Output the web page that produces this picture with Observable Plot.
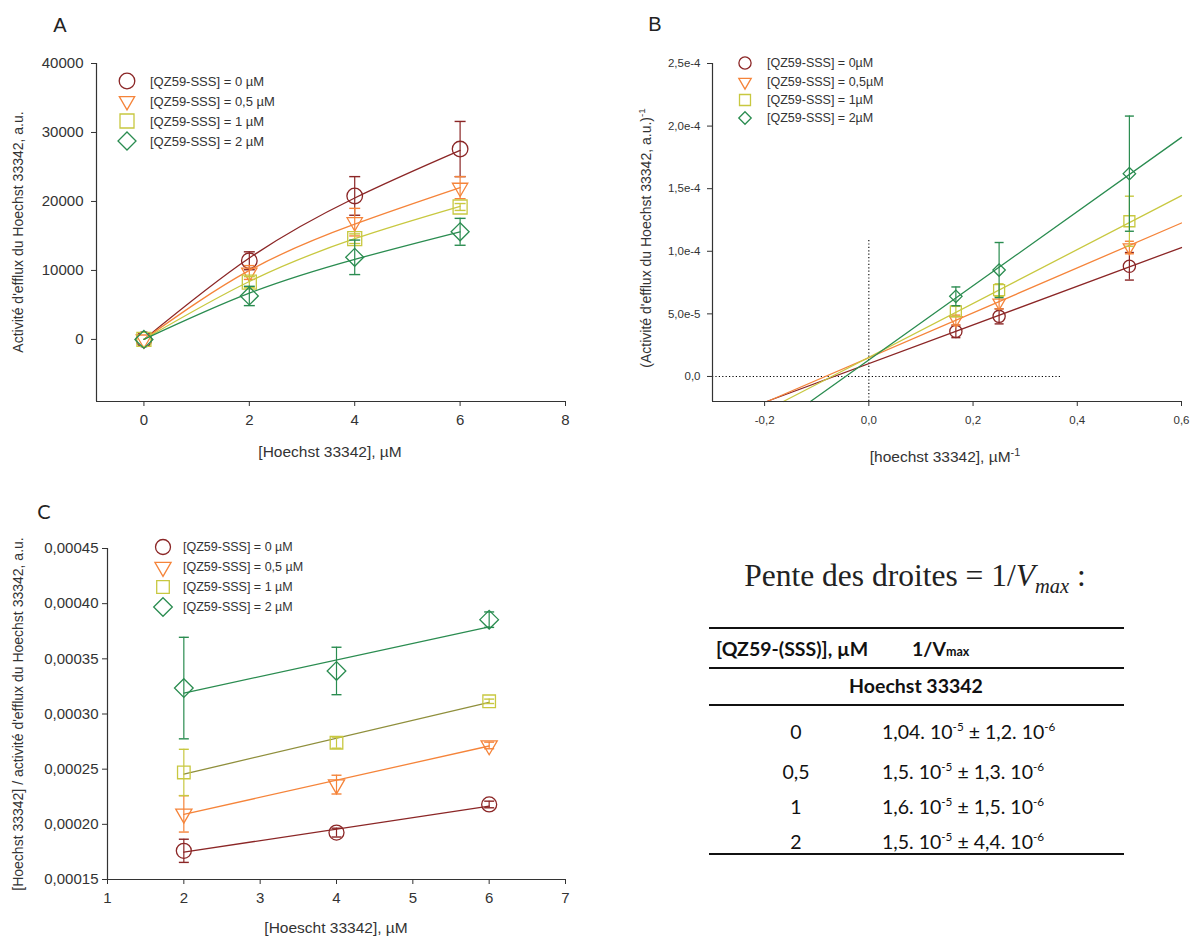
<!DOCTYPE html>
<html><head><meta charset="utf-8">
<script src="https://cdn.jsdelivr.net/npm/d3@7"></script>
<script src="https://cdn.jsdelivr.net/npm/@observablehq/plot@0.6"></script>
<style>
body{margin:0;background:#fff;}
#root{position:relative;width:1193px;height:938px;overflow:hidden;font-family:"Liberation Sans",Arial,sans-serif;color:#333;}
.abs{position:absolute;white-space:nowrap;}
.vlab{position:absolute;transform:translate(-50%,-50%) rotate(-90deg);white-space:nowrap;font-size:14px;color:#333;}
.hlab{position:absolute;transform:translate(-50%,-50%);white-space:nowrap;font-size:15.5px;color:#333;}
.letter{position:absolute;transform:translate(-50%,-50%);font-size:20px;color:#222;}
.leg{position:absolute;transform:translateY(-50%);white-space:nowrap;color:#333;}
.tbl{position:absolute;font-family:Lato,"Open Sans",sans-serif;color:#111;white-space:nowrap;}
.hr{position:absolute;left:709px;width:415px;background:#111;}
sup{font-size:70%;}
</style></head>
<body><div id="root"></div>
<script>
// ---------- data ----------
const seriesNamesA = ["[QZ59-SSS] = 0 µM", "[QZ59-SSS] = 0,5 µM", "[QZ59-SSS] = 1 µM", "[QZ59-SSS] = 2 µM"];
const seriesNamesB = ["[QZ59-SSS] = 0µM", "[QZ59-SSS] = 0,5µM", "[QZ59-SSS] = 1µM", "[QZ59-SSS] = 2µM"];
const colors = ["#8b2626", "#f5843a", "#c8c840", "#2a8c50"];
const lineColorsC = ["#8b2626", "#f5843a", "#8f8f3c", "#2a8c50"];
const symbols = ["circle", "triangle", "square", "diamond2"];
const rotations = [0, 180, 0, 0];

// Panel A: efflux activity vs [Hoechst 33342]
const concA = [0, 2, 4, 6];
const effluxA0 = [0, 11400, 20800, 27600];
const effluxA05 = [0, 9700, 17000, 22000];
const effluxA1 = [0, 8300, 14600, 19200];
const effluxA2 = [0, 6300, 11900, 15600];
const errA0 = [0, 1300, 2800, 4000];
const errA05 = [0, 1000, 2000, 1600];
const errA1 = [0, 800, 700, 500];
const errA2 = [0, 1400, 2500, 1950];
const fitA0 = [0, 11800, 20500, 27400];
const fitA05 = [0, 10000, 16700, 22000];
const fitA1 = [0, 8400, 14600, 19300];
const fitA2 = [0, 6700, 11600, 15600];
const xTicksA = [0, 2, 4, 6, 8];
const xTickLabelsA = ["0", "2", "4", "6", "8"];
const yTicksA = [0, 10000, 20000, 30000, 40000];
const yTickLabelsA = ["0", "10000", "20000", "30000", "40000"];
const xDomainA = [-0.9, 8];
const yDomainA = [-9000, 40000];

// Panel B: Lineweaver-Burk
const invConcB = [0.167, 0.25, 0.5];
const invEffluxB0 = [3.6e-5, 4.8e-5, 8.8e-5];
const invEffluxB05 = [4.5e-5, 5.9e-5, 1.03e-4];
const invEffluxB1 = [5.2e-5, 6.9e-5, 1.24e-4];
const invEffluxB2 = [6.4e-5, 8.5e-5, 1.62e-4];
const errB0 = [0.5e-5, 0.6e-5, 1.1e-5];
const errB05 = [0.4e-5, 0.5e-5, 0.5e-5];
const errB1 = [0.4e-5, 0.5e-5, 2.0e-5];
const errB2 = [0.75e-5, 2.2e-5, 4.6e-5];
const fitXB0 = [-0.196, 0.6], fitYB0 = [-2e-5, 1.03e-4];
const fitXB05 = [-0.195, 0.6], fitYB05 = [-2e-5, 1.226e-4];
const fitXB1 = [-0.164, 0.6], fitYB1 = [-2e-5, 1.444e-4];
const fitXB2 = [-0.112, 0.6], fitYB2 = [-2e-5, 1.91e-4];
const xTicksB = [-0.2, 0, 0.2, 0.4, 0.6];
const xTickLabelsB = ["-0,2", "0,0", "0,2", "0,4", "0,6"];
const yTicksB = [0, 5e-5, 1e-4, 1.5e-4, 2e-4, 2.5e-4];
const yTickLabelsB = ["0,0", "5,0e-5", "1,0e-4", "1,5e-4", "2,0e-4", "2,5e-4"];
const xDomainB = [-0.3, 0.6];
const yDomainB = [-2e-5, 2.5e-4];
const guideVX = [0], guideVY = [-2e-5, 1.1e-4];
const guideHY = [0], guideHX = [-0.3, 0.37];

// Panel C: Hanes-Woolf
const concC = [2, 4, 6];
const ratioC0 = [1.76e-4, 1.925e-4, 2.18e-4];
const ratioC05 = [2.095e-4, 2.36e-4, 2.715e-4];
const ratioC1 = [2.47e-4, 2.74e-4, 3.115e-4];
const ratioC2 = [3.235e-4, 3.39e-4, 3.855e-4];
const errC0 = [1.05e-5, 0.4e-5, 0.3e-5];
const errC05 = [1.65e-5, 0.85e-5, 0.3e-5];
const errC1 = [2.1e-5, 0.5e-5, 0.2e-5];
const errC2 = [4.6e-5, 2.15e-5, 0.7e-5];
const fitXC = [2, 6];
const fitYC0 = [1.748e-4, 2.165e-4];
const fitYC05 = [2.09e-4, 2.71e-4];
const fitYC1 = [2.455e-4, 3.105e-4];
const fitYC2 = [3.19e-4, 3.79e-4];
const xTicksC = [1, 2, 3, 4, 5, 6, 7];
const xTickLabelsC = ["1", "2", "3", "4", "5", "6", "7"];
const yTicksC = [1.5e-4, 2e-4, 2.5e-4, 3e-4, 3.5e-4, 4e-4, 4.5e-4];
const yTickLabelsC = ["0,00015", "0,00020", "0,00025", "0,00030", "0,00035", "0,00040", "0,00045"];
const xDomainC = [1, 7];
const yDomainC = [1.5e-4, 4.5e-4];

// Table
const tableConc = ["0", "0,5", "1", "2"];
const slopeMant = ["1,04", "1,5", "1,6", "1,5"];
const slopeExp = ["-5", "-5", "-5", "-5"];
const errMant = ["1,2", "1,3", "1,5", "4,4"];
const errExp = ["-6", "-6", "-6", "-6"];

// ---------- drawing ----------
const root = document.getElementById("root");
const capSymbol = {draw(ctx, size) { const w = Math.sqrt(size / Math.PI); ctx.moveTo(-w, 0); ctx.lineTo(w, 0); }};

function buildPanel(o) {
  const marks = [...(o.extra || [])];
  o.series.forEach((s, i) => {
    const rows = o.x.map((x, j) => ({x, y: s.y[j], e: s.e[j]}));
    const fitRows = s.fx.map((x, j) => ({x, y: s.fy[j]}));
    marks.push(Plot.line(fitRows, {x: "x", y: "y", stroke: o.lineColors[i], strokeWidth: 1.3, curve: o.curve || "linear"}));
    const er = rows.filter(d => d.e > 0);
    marks.push(Plot.ruleX(er, {x: "x", y1: d => d.y - d.e, y2: d => d.y + d.e, stroke: colors[i], strokeWidth: 1.2}));
    marks.push(Plot.dot(er, {x: "x", y: d => d.y + d.e, symbol: capSymbol, r: o.cap, stroke: colors[i], strokeWidth: 1.4}));
    marks.push(Plot.dot(er, {x: "x", y: d => d.y - d.e, symbol: capSymbol, r: o.cap, stroke: colors[i], strokeWidth: 1.4}));
    marks.push(Plot.dot(rows, {x: "x", y: "y", symbol: symbols[i], rotate: rotations[i], r: o.r[i], stroke: colors[i], fill: "none", strokeWidth: 1.3}));
  });
  marks.push(Plot.ruleX([o.xDomain[0]], {stroke: "#333", strokeWidth: 1.2}));
  marks.push(Plot.ruleY([o.yDomain[0]], {stroke: "#333", strokeWidth: 1.2}));
  marks.push(Plot.axisX({ticks: o.xTicks, tickFormat: d => o.xLabels[o.xTicks.indexOf(d)], tickSize: 5, tickPadding: o.padX, fontSize: o.fontSize, label: null, stroke: "#333"}));
  marks.push(Plot.axisY({ticks: o.yTicks, tickFormat: d => o.yLabels[o.yTicks.indexOf(d)], tickSize: 5, tickPadding: o.padY, fontSize: o.fontSize, label: null, stroke: "#333"}));
  return Plot.plot({
    width: o.width, height: o.height,
    marginLeft: o.m[0], marginRight: o.m[1], marginTop: o.m[2], marginBottom: o.m[3],
    x: {domain: o.xDomain}, y: {domain: o.yDomain},
    style: {fontFamily: '"Liberation Sans", Arial, sans-serif', color: "#333", background: "transparent", overflow: "visible"},
    marks
  });
}

function place(node, left, top) {
  const d = document.createElement("div");
  d.className = "abs"; d.style.left = left + "px"; d.style.top = top + "px";
  d.appendChild(node); root.appendChild(d);
}
function addHTML(cls, html, left, top, extraStyle) {
  const d = document.createElement("div");
  d.className = cls; d.innerHTML = html;
  d.style.left = left + "px"; d.style.top = top + "px";
  if (extraStyle) Object.assign(d.style, extraStyle);
  root.appendChild(d); return d;
}
function legend(names, mx, ys, tx, fontSize, radii) {
  names.forEach((name, i) => {
    const svg = d3.create("svg").attr("width", 24).attr("height", 24)
      .style("position", "absolute").style("left", (mx - 12) + "px").style("top", (ys[i] - 12) + "px").style("overflow", "visible");
    const sym = {circle: d3.symbolCircle, triangle: d3.symbolTriangle, square: d3.symbolSquare, diamond2: d3.symbolDiamond2}[symbols[i]];
    svg.append("path").attr("d", d3.symbol(sym, Math.PI * radii[i] * radii[i])())
      .attr("transform", `translate(12,12) rotate(${rotations[i]})`)
      .attr("fill", "none").attr("stroke", colors[i]).attr("stroke-width", 1.3);
    root.appendChild(svg.node());
    addHTML("leg", name, tx, ys[i], {fontSize: fontSize + "px"});
  });
}

// Panel A
const rA = [7.8, 5.7, 7.9, 8.1];
place(buildPanel({
  width: 600, height: 470, m: [96, 35, 63, 69],
  xDomain: xDomainA, yDomain: yDomainA, xTicks: xTicksA, xLabels: xTickLabelsA, yTicks: yTicksA, yLabels: yTickLabelsA,
  fontSize: 15, padX: 8, padY: 8, x: concA, r: rA, cap: 5.5, curve: "natural", lineColors: colors,
  series: [
    {y: effluxA0, e: errA0, fx: concA, fy: fitA0},
    {y: effluxA05, e: errA05, fx: concA, fy: fitA05},
    {y: effluxA1, e: errA1, fx: concA, fy: fitA1},
    {y: effluxA2, e: errA2, fx: concA, fy: fitA2}
  ]
}), 0, 0);
addHTML("letter", "A", 60, 25);
addHTML("vlab", "Activité d'efflux du Hoechst 33342, a.u.", 18, 232);
addHTML("hlab", "[Hoechst 33342], µM", 330, 452);
legend(seriesNamesA, 127, [81, 101, 121, 141], 150, 13, rA);

// Panel B
const rB = [6.1, 4.6, 6.2, 5.6];
place(buildPanel({
  width: 593, height: 470, m: [112, 12, 63, 69],
  xDomain: xDomainB, yDomain: yDomainB, xTicks: xTicksB, xLabels: xTickLabelsB, yTicks: yTicksB, yLabels: yTickLabelsB,
  fontSize: 11.5, padX: 9, padY: 7, x: invConcB, r: rB, cap: 4.5, lineColors: colors,
  extra: [
    Plot.ruleX(guideVX, {y1: guideVY[0], y2: guideVY[1], stroke: "#000", strokeDasharray: "1.2,2.2", strokeWidth: 1.1}),
    Plot.ruleY(guideHY, {x1: guideHX[0], x2: guideHX[1], stroke: "#000", strokeDasharray: "1.2,2.2", strokeWidth: 1.1})
  ],
  series: [
    {y: invEffluxB0, e: errB0, fx: fitXB0, fy: fitYB0},
    {y: invEffluxB05, e: errB05, fx: fitXB05, fy: fitYB05},
    {y: invEffluxB1, e: errB1, fx: fitXB1, fy: fitYB1},
    {y: invEffluxB2, e: errB2, fx: fitXB2, fy: fitYB2}
  ]
}), 600, 0);
addHTML("letter", "B", 655, 24);
addHTML("vlab", "(Activité d'efflux du Hoechst 33342, a.u.)<sup>-1</sup>", 645, 238);
addHTML("hlab", "[hoechst 33342], µM<sup>-1</sup>", 945, 456);
legend(seriesNamesB, 745, [63, 81.5, 99.5, 118], 767, 12.5, rB);

// Panel C
const rC = [7.5, 6, 7.1, 8.4];
place(buildPanel({
  width: 600, height: 458, m: [107, 35, 68, 59],
  xDomain: xDomainC, yDomain: yDomainC, xTicks: xTicksC, xLabels: xTickLabelsC, yTicks: yTicksC, yLabels: yTickLabelsC,
  fontSize: 15, padX: 8, padY: 4, x: concC, r: rC, cap: 5, lineColors: lineColorsC,
  series: [
    {y: ratioC0, e: errC0, fx: fitXC, fy: fitYC0},
    {y: ratioC05, e: errC05, fx: fitXC, fy: fitYC05},
    {y: ratioC1, e: errC1, fx: fitXC, fy: fitYC1},
    {y: ratioC2, e: errC2, fx: fitXC, fy: fitYC2}
  ]
}), 0, 480);
addHTML("letter", "C", 44, 511, {fontFamily: "Lato, sans-serif"});
addHTML("vlab", "[Hoechst 33342] / activité d'efflux du Hoechst 33342, a.u.", 18, 714);
addHTML("hlab", "[Hoescht 33342], µM", 336, 928);
legend(seriesNamesA, 163, [547, 567, 587, 607], 183, 12.5, rC);

// Table
addHTML("tbl", "Pente des droites = 1/<i>V<sub style='font-size:65%'>max</sub></i> :", 915, 578,
  {fontFamily: '"Liberation Serif","Times New Roman",serif', fontSize: "31.5px", transform: "translate(-50%,-50%)", color: "#222"});
[[628, 2], [668, 1.5], [705, 1.5], [854, 2]].forEach(([y, h]) => {
  const d = document.createElement("div"); d.className = "hr";
  d.style.top = (y - h / 2) + "px"; d.style.height = h + "px"; root.appendChild(d);
});
addHTML("tbl", "[QZ59-(SSS)], µM", 716, 648, {fontWeight: "bold", fontSize: "19.5px", transform: "translateY(-50%)"});
addHTML("tbl", "1/V<span style='font-size:12.5px'>max</span>", 912, 648, {fontWeight: "bold", fontSize: "19.5px", transform: "translateY(-50%)"});
addHTML("tbl", "Hoechst 33342", 916, 685, {fontWeight: "bold", fontSize: "19.5px", transform: "translate(-50%,-50%)"});
const rowY = [731, 771, 806, 841];
tableConc.forEach((c, i) => {
  addHTML("tbl", c, 796, rowY[i], {fontSize: "19.5px", transform: "translate(-50%,-50%)"});
  addHTML("tbl", `${slopeMant[i]}. 10<sup style="font-size:60%;vertical-align:0.6em">${slopeExp[i]}</sup> ± ${errMant[i]}. 10<sup style="font-size:60%;vertical-align:0.6em">${errExp[i]}</sup>`,
    882, rowY[i], {fontSize: "19.5px", transform: "translateY(-50%)"});
});
</script></body></html>
